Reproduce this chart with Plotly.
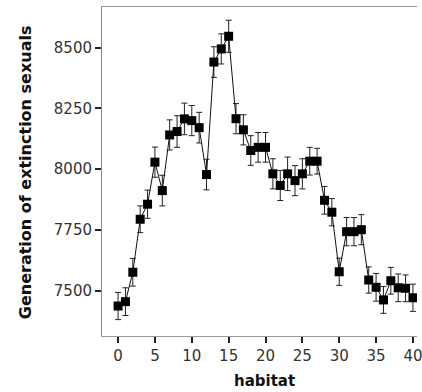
import plotly.graph_objects as go

habitat = list(range(41))
gen_extinction = [7437, 7455, 7576, 7794, 7856, 8029, 7912, 8141, 8155, 8207,
                  8200, 8171, 7978, 8441, 8495, 8547, 8208, 8162, 8077, 8090,
                  8090, 7981, 7933, 7981, 7953, 7981, 8033, 8033, 7872, 7823,
                  7578, 7743, 7743, 7751, 7544, 7514, 7462, 7541, 7512, 7510, 7471]
err = [56, 57, 57, 55, 58, 62, 63, 62, 65, 65,
       62, 63, 63, 63, 62, 66, 62, 62, 61, 61,
       61, 62, 62, 69, 62, 62, 57, 53, 57, 56,
       56, 58, 58, 62, 54, 57, 55, 55, 57, 55, 56]
x_ticks = [0, 5, 10, 15, 20, 25, 30, 35, 40]
y_ticks = [7500, 7750, 8000, 8250, 8500]

fig = go.Figure()
fig.add_trace(go.Scatter(
    x=habitat, y=gen_extinction, mode="lines+markers",
    line=dict(color="#111111", width=1),
    marker=dict(symbol="square", size=9, color="#000000"),
    error_y=dict(type="data", array=err, visible=True, color="#222222",
                 thickness=1, width=3),
    showlegend=False,
))

fig.update_layout(
    width=422, height=392,
    margin=dict(l=102, r=0, t=7, b=56),
    plot_bgcolor="white", paper_bgcolor="white",
    font=dict(family="DejaVu Sans", size=15, color="#222222"),
    xaxis=dict(range=[-2.18, 40.55], tickvals=x_ticks, ticks="outside",
               ticklen=6, tickcolor="#222222", tickwidth=2,
               ticklabeloverflow="allow",
               showline=True, linecolor="#999999", linewidth=1, mirror=True,
               showgrid=False, zeroline=False,
               tickfont=dict(family="DejaVu Sans", size=15, color="#333333")),
    yaxis=dict(range=[7313.6, 8667.5], tickvals=y_ticks, ticks="outside",
               ticklen=6, tickcolor="#222222", tickwidth=2,
               showline=True, linecolor="#888888", linewidth=1,
               showgrid=False, zeroline=False,
               tickfont=dict(family="DejaVu Sans", size=15, color="#333333")),
    annotations=[
        dict(text="<b>habitat</b>", xref="paper", yref="paper",
             x=(267 - 102) / 320, y=-(381 - 336) / 329, xanchor="center",
             yanchor="middle", showarrow=False,
             font=dict(family="DejaVu Sans", size=15, color="#111111")),
        dict(text="<b>Generation of extinction sexuals</b>", xref="paper",
             yref="paper", x=-(102 - 24) / 320, y=(336 - 172) / 329,
             xanchor="center", yanchor="middle", textangle=-90,
             showarrow=False,
             font=dict(family="DejaVu Sans", size=16, color="#111111")),
    ],
)

fig.write_html("out.html")
